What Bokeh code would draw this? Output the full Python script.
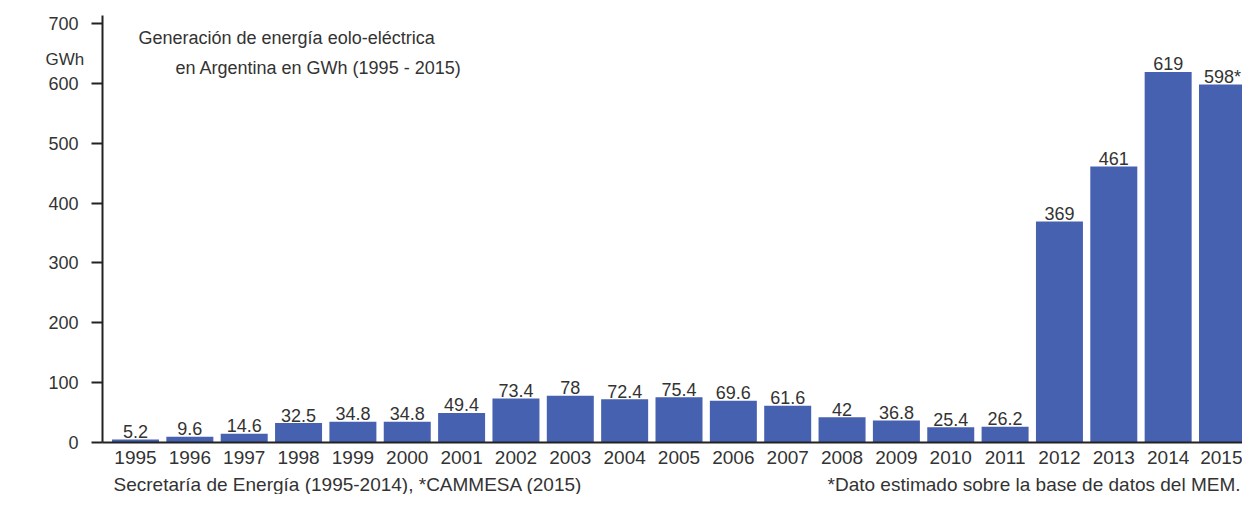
from bokeh.plotting import figure
from bokeh.models import ColumnDataSource, FixedTicker, Label, Range1d
from bokeh.core.properties import value
from bokeh.embed import file_html
from bokeh.resources import INLINE

# ---- data ----
years = list(range(1995, 2016))
gwh = [5.2, 9.6, 14.6, 32.5, 34.8, 34.8, 49.4, 73.4, 78, 72.4, 75.4,
       69.6, 61.6, 42, 36.8, 25.4, 26.2, 369, 461, 619, 598]
value_labels = ["5.2", "9.6", "14.6", "32.5", "34.8", "34.8", "49.4", "73.4",
                "78", "72.4", "75.4", "69.6", "61.6", "42", "36.8", "25.4",
                "26.2", "369", "461", "619", "598*"]
y_ticks = [0, 100, 200, 300, 400, 500, 600, 700]
title_line1 = "Generación de energía eolo-eléctrica"
title_line2 = "en Argentina en GWh (1995 - 2015)"
unit_label = "GWh"
source_note = "Secretaría de Energía (1995-2014), *CAMMESA (2015)"
estimate_note = "*Dato estimado sobre la base de datos del MEM."

FONT = "Liberation Sans"
TXT = "#333333"
BAR = "#4761B1"
AX = "#222222"

# ---- scales (pixel layout) ----
W, H = 1242, 494
SX = 54.35          # px per year
X0 = 135.0          # px position of first year
SY = 0.5986         # px per GWh
Y0 = 442.0          # px position of zero
x_start = years[0] - X0 / SX
x_end = years[0] + (W - X0) / SX
y_end = Y0 / SY
y_start = -(H - Y0) / SY
axis_x = years[0] - (X0 - 102) / SX

def dx(px):
    return years[0] + (px - X0) / SX

def dy(py):
    return (Y0 - py) / SY

src = ColumnDataSource(dict(year=years, gwh=gwh, lab=value_labels))

p = figure(width=W, height=H, output_backend="svg", toolbar_location=None,
           x_range=Range1d(x_start, x_end), y_range=Range1d(y_start, y_end),
           min_border_left=0, min_border_right=0, min_border_top=0,
           min_border_bottom=0)
p.outline_line_color = None
p.xgrid.visible = False
p.ygrid.visible = False
p.background_fill_color = "white"
p.border_fill_color = "white"

p.vbar(x="year", top="gwh", width=47 / SX, source=src,
       fill_color=BAR, line_color=None)
p.text(x="year", y="gwh", text="lab", source=src, text_align="center",
       text_baseline="alphabetic", y_offset=-8, text_font_size="18px",
       text_color=TXT, text_font=value(FONT))

# axes
xa = p.xaxis[0]
xa.fixed_location = 0
xa.bounds = (axis_x, x_end)
xa.ticker = FixedTicker(ticks=years)
xa.major_tick_out = 0
xa.major_tick_in = 0
xa.minor_tick_out = 0
xa.minor_tick_in = 0
xa.axis_line_color = AX
xa.axis_line_width = 2
xa.major_label_text_font = FONT
xa.major_label_text_font_size = "19px"
xa.major_label_text_color = TXT
xa.major_label_standoff = 8

ya = p.yaxis[0]
ya.fixed_location = axis_x
ya.bounds = (0, dy(15))
ya.ticker = FixedTicker(ticks=y_ticks)
ya.major_tick_out = 11
ya.major_tick_in = 0
ya.minor_tick_out = 0
ya.minor_tick_in = 0
ya.major_tick_line_color = AX
ya.major_tick_line_width = 2
ya.axis_line_color = AX
ya.axis_line_width = 2
ya.major_label_text_font = FONT
ya.major_label_text_font_size = "18px"
ya.major_label_text_color = TXT
ya.major_label_standoff = 13

def lab(x, y, t, align="left", size="18px"):
    p.add_layout(Label(x=x, y=y, text=t, text_align=align,
                       text_baseline="alphabetic", text_font=FONT,
                       text_font_size=size, text_color=TXT))

lab(dx(138), dy(37), title_line1)
lab(dx(175), dy(67), title_line2)
lab(dx(45), dy(59), unit_label, size="17px")
lab(dx(113), dy(484), source_note, size="19px")
lab(dx(1240), dy(484), estimate_note, align="right", size="19px")

open("out.html", "w").write(file_html(p, INLINE))
